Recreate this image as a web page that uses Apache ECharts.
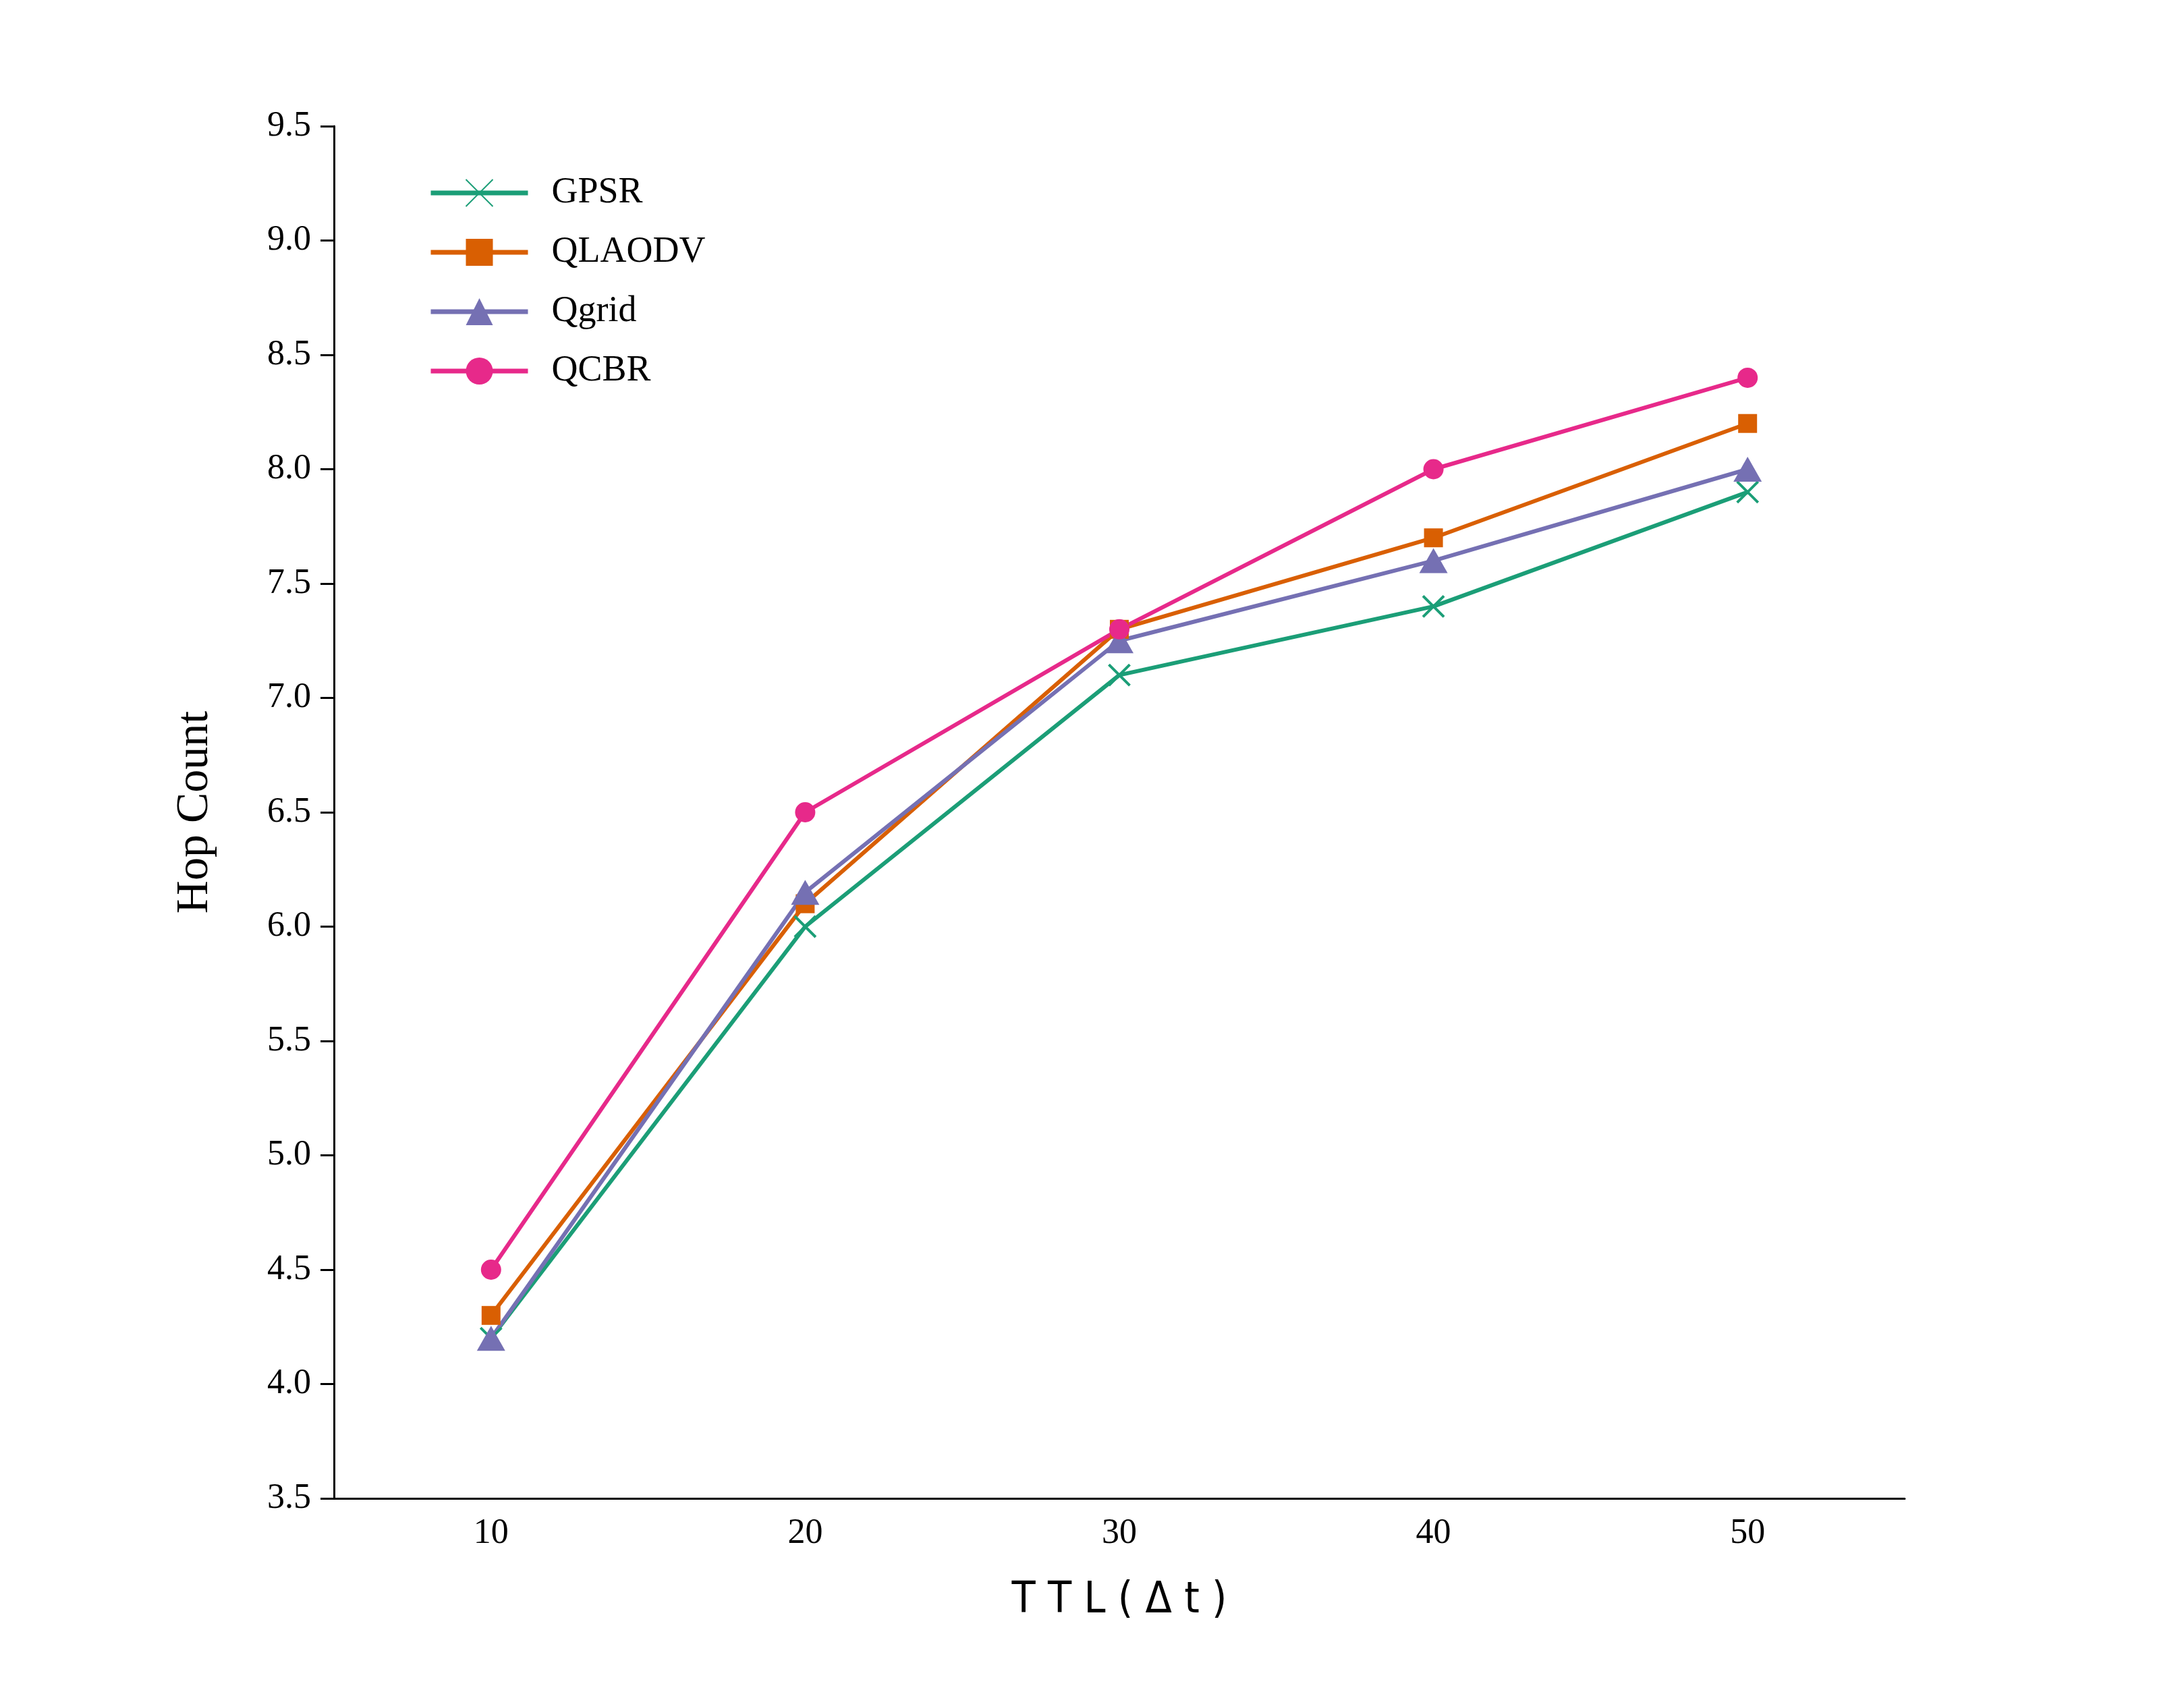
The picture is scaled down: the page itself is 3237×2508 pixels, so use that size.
<!DOCTYPE html>
<html>
<head>
<meta charset="utf-8">
<title>Hop Count vs TTL</title>
<style>
	html,body{
		margin:0;
		height:100%;
		background:#fff;
	}
	#main{
		width:3237px;
		height:2508px;
	}
</style>
<script src="https://cdn.jsdelivr.net/npm/echarts@6/dist/echarts.min.js"></script>
</head>
<body>
<div id="main"></div>
<script>
// TTL values on the x axis
var ttl = ['10', '20', '30', '40', '50'];
var seriesNames = ['GPSR', 'QLAODV', 'Qgrid', 'QCBR'];
// hop counts
var gpsr   = [4.2, 6.0, 7.1, 7.4, 7.9];
var qlaodv = [4.3, 6.1, 7.3, 7.7, 8.2];
var qgrid  = [4.2, 6.15, 7.25, 7.6, 8.0];
var qcbr   = [4.5, 6.5, 7.3, 8.0, 8.4];
var yMin = 3.5, yMax = 9.5, yStep = 0.5;

var serif = '"Times New Roman", "Liberation Serif", serif';
var myChart = echarts.init(document.getElementById('main'));

var option = {
	backgroundColor: '#fff',
	animation: false,
	grid: {
		left: 495,
		right: 414,
		top: 187,
		bottom: 287
	},
	legend: {
		orient: 'vertical',
		left: 635,
		top: 259,
		padding: 0,
		itemWidth: 144,
		itemHeight: 50,
		itemGap: 34,
		data: seriesNames,
		lineStyle: {width: 7},
		textStyle: {
			fontFamily: serif,
			fontSize: 54,
			color: '#000',
			padding: [0, 0, 0, 30]
		}
	},
	xAxis: {
		type: 'category',
		data: ttl,
		boundaryGap: true,
		name: 'T T L ( Δ t )',
		nameLocation: 'middle',
		nameGap: 120,
		nameTextStyle: {
			fontFamily: '"Liberation Sans Narrow", "DejaVu Sans Condensed", "Liberation Sans", sans-serif',
			fontSize: 64,
			color: '#000'
		},
		axisLine: {lineStyle: {color: '#000', width: 3}},
		axisTick: {alignWithLabel: true, length: 20, lineStyle: {color: '#000', width: 3}},
		axisLabel: {
			margin: 26,
			fontFamily: serif,
			fontSize: 52,
			color: '#000'
		},
		splitLine: {show: false}
	},
	yAxis: {
		type: 'value',
		min: yMin,
		max: yMax,
		interval: yStep,
		name: 'Hop Count',
		nameLocation: 'middle',
		nameRotate: 90,
		nameGap: 172,
		nameTextStyle: {
			fontFamily: serif,
			fontSize: 68,
			color: '#000'
		},
		axisLine: {show: true, lineStyle: {color: '#000', width: 3}},
		axisTick: {show: true, length: 20, lineStyle: {color: '#000', width: 3}},
		axisLabel: {
			margin: 34,
			fontFamily: serif,
			fontSize: 52,
			color: '#000',
			formatter: function (v) { return v.toFixed(1); }
		},
		splitLine: {show: false}
	},
	series: [
	{
		name: 'GPSR',
		type: 'line',
		data: gpsr,
		symbol: 'path://M0,0L10,10M10,0L0,10',
		symbolSize: 31,
		lineStyle: {color: '#1b9e77', width: 6},
		itemStyle: {color: '#1b9e77', borderColor: '#1b9e77', borderWidth: 4}
	},
	{
		name: 'QLAODV',
		type: 'line',
		data: qlaodv,
		symbol: 'rect',
		symbolSize: 28,
		lineStyle: {color: '#d95f02', width: 6},
		itemStyle: {color: '#d95f02', borderWidth: 0}
	},
	{
		name: 'Qgrid',
		type: 'line',
		data: qgrid,
		symbol: 'triangle',
		symbolSize: [42, 37],
		lineStyle: {color: '#7570b3', width: 6},
		itemStyle: {color: '#7570b3', borderWidth: 0}
	},
	{
		name: 'QCBR',
		type: 'line',
		data: qcbr,
		symbol: 'circle',
		symbolSize: 30,
		lineStyle: {color: '#e7298a', width: 6},
		itemStyle: {color: '#e7298a', borderWidth: 0}
	}
	]
};
myChart.setOption(option);
</script>
</body>
</html>
